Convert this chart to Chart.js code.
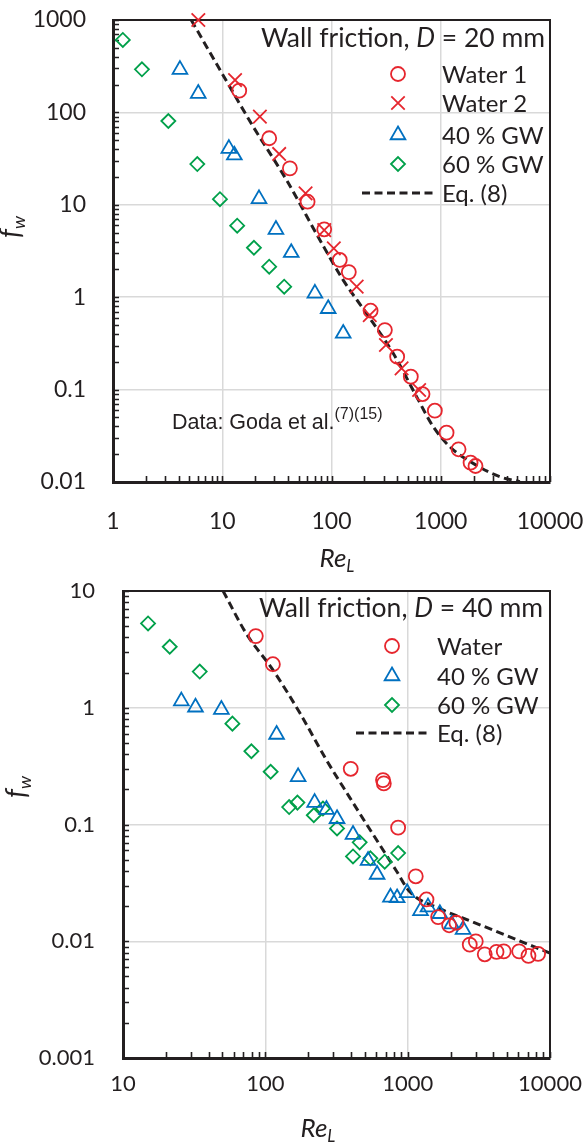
<!DOCTYPE html>
<html>
<head>
<meta charset="utf-8">
<script src="https://cdn.jsdelivr.net/npm/chart.js@4.4.1/dist/chart.umd.min.js"></script>
<style>
  html, body { margin: 0; padding: 0; background: #fff; }
  #wrap { position: relative; width: 587px; height: 1147px; }
  canvas { position: absolute; left: 0; }
  #c20 { top: 0; }
  #c40 { top: 570px; }
</style>
</head>
<body>
<div id="wrap">
  <canvas id="c20" width="587" height="580"></canvas>
  <canvas id="c40" width="587" height="577"></canvas>
</div>
<script>
// ---- D = 20 mm ----
const re20Water1 = [14.3, 26.9, 41.6, 60.4, 85.8, 119, 144, 228, 308, 399, 532, 681, 883, 1130, 1455, 1875, 2080];
const fw20Water1 = [172, 52.5, 24.8, 10.8, 5.43, 2.53, 1.87, 0.714, 0.441, 0.227, 0.138, 0.0895, 0.0591, 0.0342, 0.0226, 0.0162, 0.0149];
const re20Water2 = [6.04, 13.1, 22.1, 33.2, 57.9, 85.8, 105, 170, 224, 315, 438, 634];
const fw20Water2 = [1000, 224, 89.9, 35.5, 13.3, 5.33, 3.38, 1.30, 0.641, 0.304, 0.170, 0.099];
const re20GW40 = [4.1, 6.03, 11.5, 12.9, 21.7, 31, 42.8, 70.5, 93.3, 128];
const fw20GW40 = [290, 160, 40.5, 34.4, 11.6, 5.4, 3.03, 1.10, 0.75, 0.405];
const re20GW60 = [1.23, 1.84, 3.21, 5.91, 9.53, 13.7, 19.5, 26.9, 36.9];
const fw20GW60 = [608, 293, 80.7, 27.6, 11.5, 5.94, 3.43, 2.14, 1.30];
const re20Eq = [5.2, 10, 19.2, 38.8, 78.3, 128, 209, 367, 601, 853, 1210, 1982, 3475, 5300];
const fw20Eq = [1000, 262, 70.1, 18.5, 4.16, 1.53, 0.668, 0.247, 0.0838, 0.0397, 0.0241, 0.0159, 0.0114, 0.0101];
const xTicks20 = [1, 10, 100, 1000, 10000];
const yTicks20 = [0.01, 0.1, 1, 10, 100, 1000];

// ---- D = 40 mm ----
const re40Water = [85.7, 113, 398, 671, 680, 857, 1140, 1356, 1637, 1955, 2200, 2730, 3010, 3480, 4210, 4730, 6070, 7060, 8250];
const fw40Water = [4.11, 2.36, 0.30, 0.24, 0.225, 0.094, 0.036, 0.0228, 0.0161, 0.0137, 0.0144, 0.00935, 0.00998, 0.00773, 0.0081, 0.0082, 0.0082, 0.0075, 0.0078];
const re40GW40 = [25.7, 32.3, 49.1, 120, 170, 222, 269, 319, 413, 527, 610, 757, 843, 991, 1231, 1390, 1683, 2033, 2451];
const fw40GW40 = [1.14, 1.01, 0.965, 0.59, 0.256, 0.154, 0.134, 0.112, 0.082, 0.049, 0.0373, 0.0238, 0.0235, 0.026, 0.0182, 0.0196, 0.0172, 0.014, 0.0126];
const re40GW60 = [15, 21.3, 34.6, 58.7, 79.8, 109, 147, 168, 219, 254, 319, 413, 460, 547, 690, 857];
const fw40GW60 = [5.27, 3.33, 2.04, 0.731, 0.424, 0.283, 0.141, 0.154, 0.12, 0.137, 0.0925, 0.0533, 0.0703, 0.0513, 0.048, 0.0569];
const re40Eq = [50.5, 73.6, 113, 175, 269, 392, 513, 604, 834, 1035, 1683, 2884, 4943, 10000];
const fw40Eq = [10, 4.3, 2.11, 0.90, 0.356, 0.17, 0.101, 0.074, 0.040, 0.0265, 0.019, 0.0146, 0.0112, 0.0079];
const xTicks40 = [10, 100, 1000, 10000];
const yTicks40 = [0.001, 0.01, 0.1, 1, 10];

const INK = '#231f20';
const RED = '#e6262e';
const BLUE = '#0070c0';
const GREEN = '#00a04a';
const GRID = '#d9d9d9';
const SANS = 'Lato, "Open Sans", sans-serif';
const ARIAL = '"Liberation Sans", Arial, sans-serif';

const pts = (xs, ys) => xs.map((v, i) => ({ x: v, y: ys[i] }));

function drawRich(ctx, parts, x, y, align) {
  let w = 0;
  parts.forEach(p => { ctx.font = p[1]; w += ctx.measureText(p[0]).width; });
  let cx = align === 'right' ? x - w : align === 'center' ? x - w / 2 : x;
  ctx.textAlign = 'left';
  ctx.textBaseline = 'alphabetic';
  parts.forEach(p => {
    ctx.font = p[1];
    ctx.fillText(p[0], cx, y + (p[2] || 0));
    cx += ctx.measureText(p[0]).width;
  });
}

function marker(ctx, style, r, color, x, y) {
  ctx.save();
  ctx.strokeStyle = color;
  ctx.fillStyle = 'rgba(0,0,0,0)';
  ctx.lineWidth = 1.8;
  Chart.helpers.drawPoint(ctx, { pointStyle: style, radius: r, borderWidth: 1.8, rotation: 0 }, x, y);
  ctx.restore();
}

// Frame lines on the top/right and inward minor ticks on the log axes
const framePlugin = {
  id: 'frame',
  beforeDatasetsDraw(chart) {
    const { ctx, chartArea: a, scales: { x, y } } = chart;
    ctx.save();
    ctx.strokeStyle = INK;
    ctx.lineWidth = 2;
    ctx.beginPath();
    ctx.moveTo(a.left, a.top); ctx.lineTo(a.right, a.top); ctx.lineTo(a.right, a.bottom);
    ctx.stroke();
    ctx.lineWidth = 1.6;
    ctx.beginPath();
    const len = 6;
    for (let e = Math.round(Math.log10(x.min)); e < Math.round(Math.log10(x.max)); e++) {
      for (let m = 1; m <= 10; m++) {
        const px = Math.round(x.getPixelForValue(m * Math.pow(10, e))) + 0.5;
        ctx.moveTo(px, a.bottom); ctx.lineTo(px, a.bottom - len);
      }
    }
    for (let e = Math.round(Math.log10(y.min)); e < Math.round(Math.log10(y.max)); e++) {
      for (let m = 1; m <= 10; m++) {
        const py = Math.round(y.getPixelForValue(m * Math.pow(10, e))) + 0.5;
        ctx.moveTo(a.left, py); ctx.lineTo(a.left + len, py);
      }
    }
    ctx.stroke();
    ctx.restore();
  }
};

// Title, legend, axis titles and notes
const textPlugin = {
  id: 'texts',
  afterDraw(chart) {
    const o = chart.options.plugins.texts;
    const ctx = chart.ctx;
    ctx.save();
    ctx.fillStyle = INK;
    drawRich(ctx, [['Wall friction, ', '26.5px ' + SANS], ['D', 'italic 26.5px ' + SANS], [' = ' + o.diameter + ' mm', '26.5px ' + SANS]],
      o.titleRight, o.titleBase, 'right');
    o.legend.forEach((it, i) => {
      const yc = o.legendY[i];
      if (it.line) {
        ctx.save();
        ctx.strokeStyle = INK; ctx.lineWidth = 3; ctx.setLineDash([8, 4.5]);
        ctx.beginPath(); ctx.moveTo(o.lineX[0], yc); ctx.lineTo(o.lineX[1], yc); ctx.stroke();
        ctx.restore();
      } else {
        marker(ctx, it.style, it.r, it.color, o.markerX, yc);
      }
      ctx.fillStyle = INK;
      drawRich(ctx, [[it.label, '24px ' + SANS]], o.textX, yc + 8.5, 'left');
    });
    drawRich(ctx, [['Re', 'italic 26px ' + SANS], ['L', 'italic 17px ' + SANS, 5]], o.xTitle[0], o.xTitle[1], 'center');
    ctx.save();
    ctx.translate(o.yTitle[0], o.yTitle[1]);
    ctx.rotate(-Math.PI / 2);
    drawRich(ctx, [['f', 'italic 28px ' + SANS], ['w', 'italic 18px ' + SANS, 5]], 0, 0, 'center');
    ctx.restore();
    if (o.note) {
      drawRich(ctx, [['Data: Goda et al.', '21.5px ' + ARIAL], ['(7)(15)', '16px ' + ARIAL, -10]], o.note[0], o.note[1], 'left');
    }
    ctx.restore();
  }
};

function noPad(sc) { sc.paddingTop = 0; sc.paddingBottom = 0; sc.paddingLeft = 0; sc.paddingRight = 0; }

function build(id, spec) {
  const datasets = spec.series.map(s => s.line ? {
    type: 'line', label: s.label, data: pts(s.re, s.fw),
    borderColor: INK, borderWidth: 3, borderDash: [8, 4.5], pointRadius: 0,
    fill: false, cubicInterpolationMode: 'monotone', clip: 0
  } : {
    type: 'scatter', label: s.label, data: pts(s.re, s.fw),
    pointStyle: s.style, pointRadius: s.r, pointHoverRadius: s.r,
    pointBorderColor: s.color, pointBackgroundColor: 'rgba(0,0,0,0)',
    pointBorderWidth: 1.8, showLine: false, clip: false
  });
  const tickFont = { family: SANS, size: spec.tickSize };
  return new Chart(document.getElementById(id), {
    type: 'scatter',
    data: { datasets },
    options: {
      responsive: false, animation: false, devicePixelRatio: 1,
      layout: { padding: { left: 0, right: spec.padRight, top: spec.padTop, bottom: 0 } },
      plugins: { legend: { display: false }, tooltip: { enabled: false }, texts: spec.texts },
      scales: {
        x: {
          type: 'logarithmic', min: spec.xTicks[0], max: spec.xTicks[spec.xTicks.length - 1],
          afterBuildTicks: sc => { sc.ticks = spec.xTicks.map(v => ({ value: v })); },
          afterFit: sc => { sc.height = spec.xAxisH; noPad(sc); },
          grid: { color: GRID, lineWidth: 1.5, drawTicks: false },
          border: { display: true, color: INK, width: 3 },
          ticks: { color: INK, font: tickFont, padding: spec.xPad, maxRotation: 0, autoSkip: false,
                   callback: v => String(v) }
        },
        y: {
          type: 'logarithmic', min: spec.yTicks[0], max: spec.yTicks[spec.yTicks.length - 1],
          afterBuildTicks: sc => { sc.ticks = spec.yTicks.map(v => ({ value: v })); },
          afterFit: sc => { sc.width = spec.yAxisW; noPad(sc); },
          grid: { color: GRID, lineWidth: 1.5, drawTicks: false },
          border: { display: true, color: INK, width: 3 },
          ticks: { color: INK, font: tickFont, padding: spec.yPad, autoSkip: false,
                   callback: v => String(v) }
        }
      }
    },
    plugins: [framePlugin, textPlugin]
  });
}

const legend20 = [
  { label: 'Water 1', style: 'circle', r: 7, color: RED },
  { label: 'Water 2', style: 'crossRot', r: 9.5, color: RED },
  { label: '40 % GW', style: 'triangle', r: 8.5, color: BLUE },
  { label: '60 % GW', style: 'rectRot', r: 7, color: GREEN },
  { label: 'Eq. (8)', line: true }
];
const legend40 = [
  { label: 'Water', style: 'circle', r: 7, color: RED },
  { label: '40 % GW', style: 'triangle', r: 8.5, color: BLUE },
  { label: '60 % GW', style: 'rectRot', r: 7, color: GREEN },
  { label: 'Eq. (8)', line: true }
];

build('c20', {
  series: [
    { label: 'Water 1', re: re20Water1, fw: fw20Water1, style: 'circle', r: 7, color: RED },
    { label: 'Water 2', re: re20Water2, fw: fw20Water2, style: 'crossRot', r: 9.5, color: RED },
    { label: '40 % GW', re: re20GW40, fw: fw20GW40, style: 'triangle', r: 8.5, color: BLUE },
    { label: '60 % GW', re: re20GW60, fw: fw20GW60, style: 'rectRot', r: 7, color: GREEN },
    { label: 'Eq. (8)', re: re20Eq, fw: fw20Eq, line: true }
  ],
  xTicks: xTicks20, yTicks: yTicks20,
  padTop: 20, padRight: 37, xAxisH: 98, yAxisW: 113, xPad: 26, yPad: 27, tickSize: 23,
  texts: {
    diameter: 20, titleRight: 545, titleBase: 47,
    legend: legend20, legendY: [74, 103, 135, 164, 193], markerX: 398, textX: 442, lineX: [362, 435],
    xTitle: [337, 567], yTitle: [20, 227], note: [172, 429]
  }
});

build('c40', {
  series: [
    { label: 'Water', re: re40Water, fw: fw40Water, style: 'circle', r: 7, color: RED },
    { label: '40 % GW', re: re40GW40, fw: fw40GW40, style: 'triangle', r: 8.5, color: BLUE },
    { label: '60 % GW', re: re40GW60, fw: fw40GW60, style: 'rectRot', r: 7, color: GREEN },
    { label: 'Eq. (8)', re: re40Eq, fw: fw40Eq, line: true }
  ],
  xTicks: xTicks40, yTicks: yTicks40,
  padTop: 21, padRight: 37, xAxisH: 89, yAxisW: 123, xPad: 13, yPad: 28, tickSize: 22,
  texts: {
    diameter: 40, titleRight: 543, titleBase: 47,
    legend: legend40, legendY: [76, 106, 135, 163], markerX: 392, textX: 437, lineX: [356, 428],
    xTitle: [318, 567], yTitle: [26, 217], note: null
  }
});
</script>
</body>
</html>
